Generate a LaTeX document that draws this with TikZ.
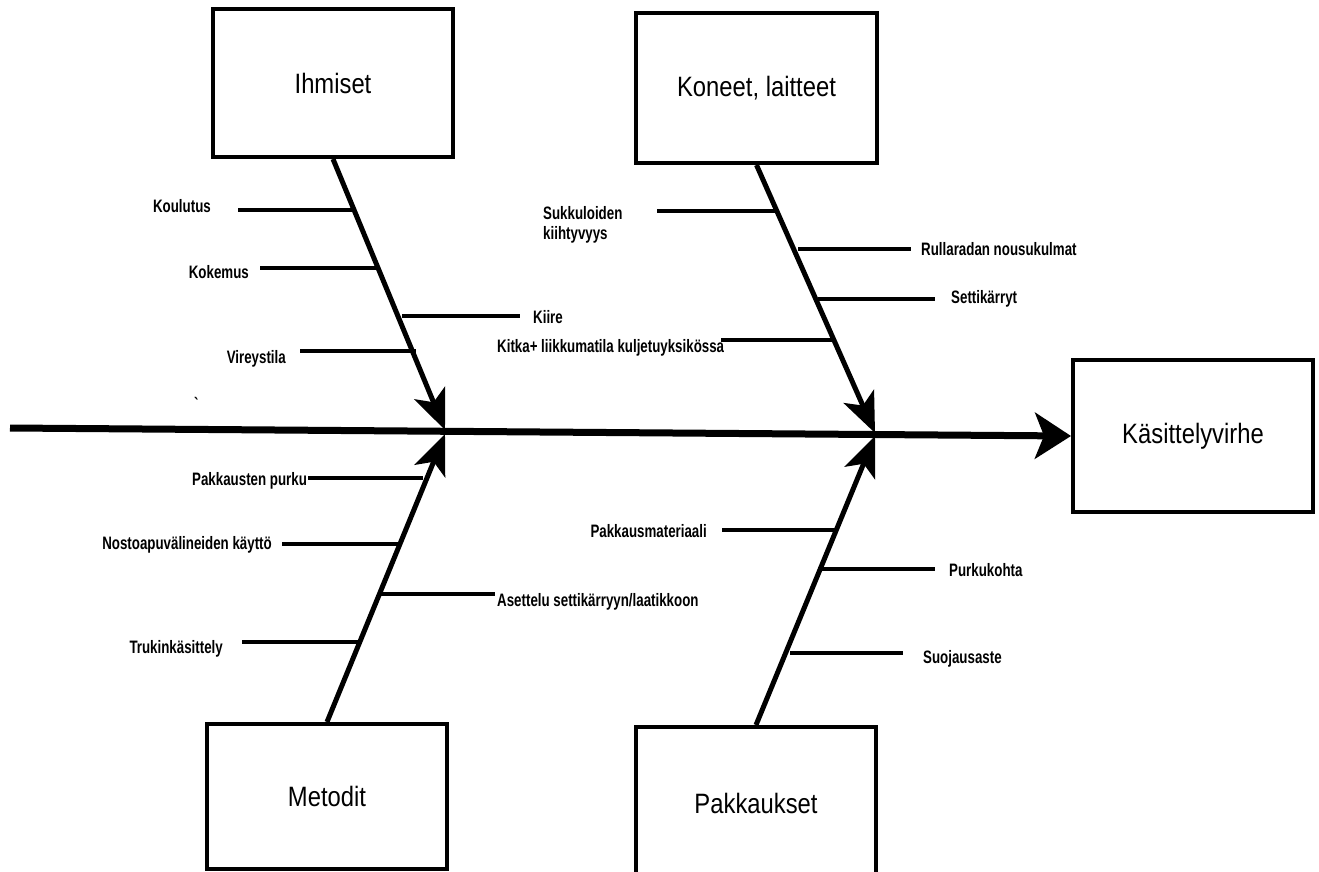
\documentclass[tikz,border=0pt]{standalone}
\usepackage{fontspec}
\setmainfont{Liberation Sans}
\newfontfamily\boxfont[FakeStretch=0.85]{Liberation Sans}
\newfontfamily\ribfont[FakeStretch=0.74]{Liberation Sans}
\usetikzlibrary{arrows.meta}
\begin{document}
\begin{tikzpicture}[x=1pt,y=-1pt,
  cat/.style={draw,line width=4pt,inner sep=0pt,font=\boxfont\fontsize{28}{32}\selectfont},
  bone/.style={line width=5pt,-{Stealth[length=40pt,width=33pt,inset=10pt]}},
  spine/.style={line width=7pt,-{Stealth[length=36pt,width=46pt,inset=9pt]}},
  rib/.style={line width=4pt},
  lbl/.style={inner sep=0pt,font=\ribfont\bfseries\fontsize{18}{21}\selectfont}]
\useasboundingbox (0,0) rectangle (1319,872);

% category boxes
\node[cat,minimum width=240pt,minimum height=148pt] (ihm) at (333,83) {Ihmiset};
\node[cat,minimum width=241pt,minimum height=150pt] (kon) at (756.5,88) {Koneet, laitteet};
\node[cat,minimum width=240pt,minimum height=145pt] (met) at (327,796.5) {Metodit};
\node[cat,minimum width=240pt,minimum height=152pt] (pak) at (756,803) {Pakkaukset};
\node[cat,minimum width=240pt,minimum height=152pt] (eff) at (1193,436) {Käsittelyvirhe};

% spine and bones
\coordinate (tail) at (10,428);
\coordinate (j1) at (445,430);
\coordinate (j2) at (875,433);
\coordinate (j3) at (445,434);
\coordinate (j4) at (875,436);
\draw[spine] (tail) -- (eff.west);
\draw[bone] (ihm.south) -- (j1);
\draw[bone] (kon.south) -- (j2);
\draw[bone] (met.north) -- (j3);
\draw[bone] (pak.north) -- (j4);

% ribs
\draw[rib] (238,210) -- (353,210);
\draw[rib] (260,268) -- (377,268);
\draw[rib] (402,316) -- (520,316);
\draw[rib] (300,351) -- (416,351);
\draw[rib] (657,211) -- (776,211);
\draw[rib] (798,249) -- (911,249);
\draw[rib] (818,299) -- (935,299);
\draw[rib] (721,340) -- (836,340);
\draw[rib] (308,478) -- (423,478);
\draw[rib] (282,544) -- (398,544);
\draw[rib] (378,594) -- (495,594);
\draw[rib] (242,642) -- (358,642);
\draw[rib] (722,530) -- (837,530);
\draw[rib] (818,569) -- (935,569);
\draw[rib] (790,653) -- (903,653);

% rib labels
\node[lbl,anchor=base east] (l1) at (211,212) {Koulutus};
\node[lbl,anchor=base east] (l2) at (249,278) {Kokemus};
\node[lbl,anchor=base west] (l3) at (533,323) {Kiire};
\node[lbl,anchor=base east] (l4) at (286,363) {Vireystila};
\node[lbl,anchor=base west] (l5) at (543,219) {Sukkuloiden};
\node[lbl,anchor=base west] (l5b) at (543,239) {kiihtyvyys};
\node[lbl,anchor=base west] (l6) at (921,255) {Rullaradan nousukulmat};
\node[lbl,anchor=base west] (l7) at (951,303) {Settikärryt};
\node[lbl,anchor=base west] (l8) at (497,352) {Kitka+ liikkumatila kuljetuyksikössa};
\node[lbl,anchor=base west] (l9) at (192,485) {Pakkausten purku};
\node[lbl,anchor=base east] (l10) at (272,549) {Nostoapuvälineiden käyttö};
\node[lbl,anchor=base west] (l11) at (497,606) {Asettelu settikärryyn/laatikkoon};
\node[lbl,anchor=base east] (l12) at (223,653) {Trukinkäsittely};
\node[lbl,anchor=base east] (l13) at (707,537) {Pakkausmateriaali};
\node[lbl,anchor=base west] (l14) at (949,576) {Purkukohta};
\node[lbl,anchor=base west] (l15) at (923,663) {Suojausaste};
\node[lbl,anchor=base] (tick) at (197,410) {\textasciigrave};
\end{tikzpicture}
\end{document}
